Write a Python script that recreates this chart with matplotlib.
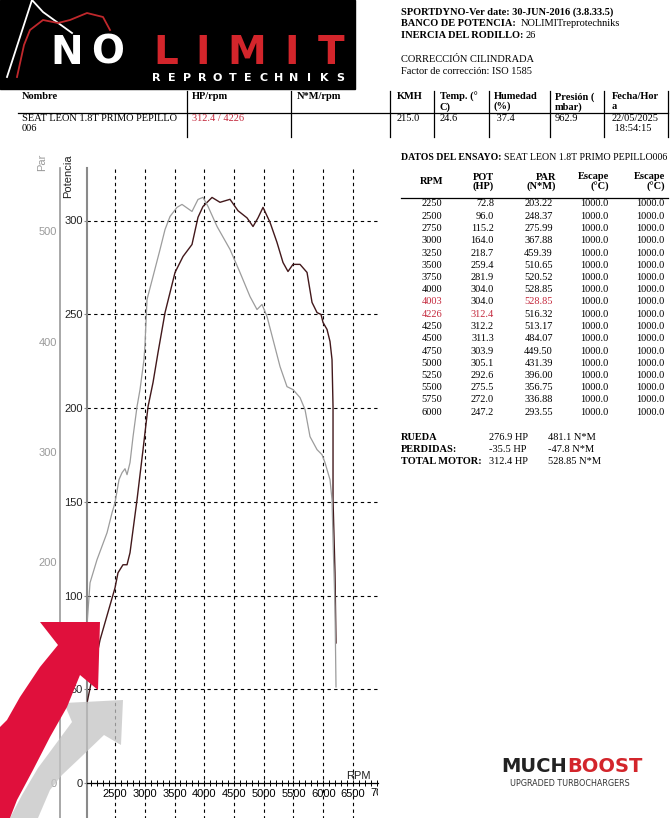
import matplotlib
matplotlib.use('Agg')
import matplotlib.pyplot as plt
import numpy as np
from matplotlib.patches import Rectangle, Polygon
from matplotlib.ticker import MultipleLocator
from matplotlib.transforms import Bbox, TransformedBbox

# curves
pot_rpm = [2029, 2248, 2500, 2550, 2634, 2702, 2752, 2870, 2971, 3055, 3139, 3223, 3341,
           3509, 3643, 3794, 3895, 3979, 4131, 4265, 4433, 4568, 4719, 4820, 4904, 4988,
           5106, 5223, 5324, 5408, 5492, 5610, 5728, 5812, 5896, 5963, 5997, 6064, 6114,
           6148, 6165, 6165, 6198, 6215]
pot_hp = [42.7, 76.3, 104.1, 112.1, 116.4, 116.4, 122.8, 151.1, 177.8, 200.7, 213.6, 229.6,
          250.9, 272.3, 280.8, 287.2, 301.7, 307.5, 312.3, 309.7, 311.3, 305.2, 301.4, 296.8,
          301.4, 307.0, 299.0, 288.3, 277.6, 272.8, 276.6, 276.6, 272.3, 256.3, 250.9, 249.9,
          245.6, 241.9, 235.5, 225.8, 200.7, 151.1, 112.1, 74.7]

par_rpm = [2029, 2080, 2197, 2366, 2450, 2500, 2567, 2618, 2668, 2702, 2752, 2803, 2870,
           2920, 2987, 3004, 3038, 3139, 3257, 3341, 3425, 3542, 3626, 3794, 3895, 3979,
           4063, 4215, 4433, 4601, 4769, 4887, 4971, 5055, 5156, 5274, 5391, 5492, 5610,
           5694, 5778, 5896, 5980, 6030, 6114, 6148, 6165, 6198, 6215]
par_nm = [143.4, 181.5, 202.4, 226.9, 245.0, 254.1, 275.0, 281.3, 284.9, 279.5, 290.4, 314.0,
          341.2, 356.6, 383.8, 397.5, 438.3, 459.2, 483.7, 501.8, 513.6, 521.8, 524.5, 518.1,
          529.0, 530.9, 522.7, 504.5, 483.7, 462.8, 441.0, 429.2, 433.8, 422.9, 402.0, 377.5,
          359.3, 356.6, 349.4, 338.5, 314.0, 302.2, 297.6, 290.4, 275.0, 256.8, 220.5, 159.7, 87.1]

hp_ticks = [0, 50, 100, 150, 200, 250, 300]
nm_ticks = [0, 100, 200, 300, 400, 500]
rpm_ticks = [2500, 3000, 3500, 4000, 4500, 5000, 5500, 6000, 6500]

# test table
tab_rpm = ['2250', '2500', '2750', '3000', '3250', '3500', '3750', '4000', '4003', '4226',
           '4250', '4500', '4750', '5000', '5250', '5500', '5750', '6000']
tab_pot = ['72.8', '96.0', '115.2', '164.0', '218.7', '259.4', '281.9', '304.0', '304.0',
           '312.4', '312.2', '311.3', '303.9', '305.1', '292.6', '275.5', '272.0', '247.2']
tab_par = ['203.22', '248.37', '275.99', '367.88', '459.39', '510.65', '520.52', '528.85',
           '528.85', '516.32', '513.17', '484.07', '449.50', '431.39', '396.00', '356.75',
           '336.88', '293.55']
tab_esc = ['1000.0'] * 18

head_cols = ['Nombre', 'HP/rpm', 'N*M/rpm', 'KMH', 'Temp. (°\nC)', 'Humedad\n(%)',
             'Presión (\nmbar)', 'Fecha/Hor\na']
head_vals = ['SEAT LEON 1.8T PRIMO PEPILLO\n006', '312.4 / 4226', '', '215.0', '24.6',
             ' 37.4', '962.9', '22/05/2025\n 18:54:15']

SERIF = 'Liberation Serif'
SANS = 'Liberation Sans'
RED = '#c4283c'

fig = plt.figure(figsize=(6.72, 8.18), dpi=100)

# ---------------- chart ----------------
ax = fig.add_axes([87/672, 35/818, 291/672, 615/818])
ax2 = ax.twinx()
ax.set_xlim(2029, 6921)
ax.set_ylim(0, 328)
ax2.set_ylim(0, 557.5)

ax.plot(pot_rpm, pot_hp, color='#42181b', lw=1.0, zorder=4)
ax2.plot(par_rpm, par_nm, color='#9c9c9c', lw=0.9, zorder=3)

ax.vlines(rpm_ticks, -19, 328, colors='k', linestyles=(0, (3, 3)), lw=0.8, clip_on=False)
ax.hlines(hp_ticks[1:], 2029, 6921, colors='k', linestyles=(0, (3, 3)), lw=0.8)

for s in ['top', 'right']:
    ax.spines[s].set_visible(False)
ax.spines['left'].set_color('#8a8a8a')
ax.spines['left'].set_linewidth(1.5)
ax.spines['left'].set_bounds(-19, 328)
ax.spines['bottom'].set_linewidth(0.9)

ax.set_xticks(rpm_ticks)
ax.xaxis.set_minor_locator(MultipleLocator(100))
ax.tick_params(axis='x', which='both', direction='inout', length=5, width=0.7, pad=2,
               labelsize=8)
for lbl in ax.get_xticklabels():
    lbl.set_fontfamily(SANS)
t7 = ax.text(7000, -0.0163, '7000', transform=ax.get_xaxis_transform(), ha='center',
             va='center', fontsize=8, family=SANS)
t7.set_clip_on(True)
t7.set_clip_box(TransformedBbox(Bbox([[0, 0], [378/672, 1]]), fig.transFigure))

ax.set_yticks(hp_ticks)
ax.tick_params(axis='y', length=2, color='#8a8a8a', pad=1, labelsize=8, labelcolor='#222222')
for lbl in ax.get_yticklabels():
    lbl.set_fontfamily(SANS)

for s in ['top', 'right', 'bottom']:
    ax2.spines[s].set_visible(False)
ax2.spines['left'].set_visible(True)
ax2.spines['left'].set_position(('axes', -27/291))
ax2.spines['left'].set_color('#9a9a9a')
ax2.spines['left'].set_linewidth(1.2)
ax2.spines['left'].set_bounds(-32, 557.5)
ax2.yaxis.set_ticks_position('left')
ax2.set_yticks(nm_ticks)
ax2.tick_params(axis='y', length=0, pad=2, labelsize=8, labelcolor='#9a9a9a')
for lbl in ax2.get_yticklabels():
    lbl.set_fontfamily(SANS)

# ---------------- overlay in pixel coords ----------------
ov = fig.add_axes([0, 0, 1, 1], zorder=10)
ov.set_xlim(0, 672)
ov.set_ylim(818, 0)
ov.axis('off')
ov.patch.set_visible(False)

ov.text(68, 176, 'Potencia', rotation=90, ha='center', va='center', fontsize=8, family=SANS,
        color='#222222')
ov.text(42, 162, 'Par', rotation=90, ha='center', va='center', fontsize=8, family=SANS,
        color='#9a9a9a')
ov.text(358, 776, 'RPM', ha='center', va='center', fontsize=8, family=SANS, color='#222222')

# logo block
ov.add_patch(Rectangle((0, 0), 355, 89, color='black'))
ov.plot([7, 32, 43, 72], [77, 0, 12, 33], color='white', lw=1.3)
ov.plot([17, 24, 30, 43, 58, 70, 87, 103, 110], [77, 45, 30, 20, 23, 20, 13, 17, 30],
        color='#c0282c', lw=1.3)
for ch, x, c in zip('NOLIMIT', [67, 108, 166, 203, 247, 292, 331],
                    ['white', 'white', '#d3252b', '#d3252b', '#d3252b', '#d3252b', '#d3252b']):
    ov.text(x, 64, ch, ha='center', va='baseline', fontsize=28, fontweight='bold',
            family='DejaVu Sans', color=c)
for ch, x in zip('REPROTECHNIKS', np.linspace(156, 340, 13)):
    ov.text(x, 81, ch, ha='center', va='baseline', fontsize=8, fontweight='bold',
            family='DejaVu Sans', color='white')

# header info
fs = 7.5
ov.text(401, 12, 'SPORTDYNO-Ver date: 30-JUN-2016 (3.8.33.5)', fontsize=fs, family=SERIF,
        fontweight='bold', va='center')
ov.text(401, 24, 'BANCO DE POTENCIA:', fontsize=fs, family=SERIF, fontweight='bold',
        va='center')
ov.text(521, 24, 'NOLIMITreprotechniks', fontsize=fs, family=SERIF, va='center')
ov.text(401, 36, 'INERCIA DEL RODILLO:', fontsize=fs, family=SERIF, fontweight='bold',
        va='center')
ov.text(526, 36, '26', fontsize=fs, family=SERIF, va='center')
ov.text(401, 60, 'CORRECCIÓN CILINDRADA', fontsize=fs, family=SERIF, va='center')
ov.text(401, 72, 'Factor de corrección: ISO 1585', fontsize=fs, family=SERIF, va='center')

# header table
col_x = [22, 192, 297, 397, 440, 494, 555, 612]
for x, h, v in zip(col_x, head_cols, head_vals):
    ov.text(x, 92, h, fontsize=fs, family=SERIF, fontweight='bold', va='top',
            linespacing=1.1)
    ov.text(x, 114, v, fontsize=fs, family=SERIF, va='top', linespacing=1.15,
            color=RED if v == head_vals[1] else 'black')
ov.plot([18, 668], [113, 113], color='black', lw=0.9)
for x in [187, 291, 390, 434, 489, 550, 604, 668]:
    ov.plot([x, x], [91, 137], color='black', lw=0.9)

# test data table
ov.text(401, 157, 'DATOS DEL ENSAYO:', fontsize=7, family=SERIF, fontweight='bold',
        va='center')
ov.text(504, 157, 'SEAT LEON 1.8T PRIMO PEPILLO006', fontsize=7.1, family=SERIF,
        va='center')
ov.text(432, 182, 'RPM', fontsize=fs, family=SERIF, fontweight='bold', va='center',
        ha='center')
for x, h in [(494, 'POT\n(HP)'), (556, 'PAR\n(N*M)'), (609, 'Escape\n(°C)'),
             (665, 'Escape\n(°C)')]:
    ov.text(x, 182, h, fontsize=fs, family=SERIF, fontweight='bold', va='center',
            ha='right', ma='right', linespacing=1.05)
ov.plot([401, 668], [198, 198], color='black', lw=0.9)
for i, (r, p, q, e) in enumerate(zip(tab_rpm, tab_pot, tab_par, tab_esc)):
    y = 204 + i * 12.25
    ov.text(432, y, r, fontsize=fs, family=SERIF, ha='center', va='center',
            color=RED if r in ('4003', '4226') else 'black')
    ov.text(494, y, p, fontsize=fs, family=SERIF, ha='right', va='center',
            color=RED if r == '4226' else 'black')
    ov.text(553, y, q, fontsize=fs, family=SERIF, ha='right', va='center',
            color=RED if r == '4003' else 'black')
    ov.text(608, y, e, fontsize=fs, family=SERIF, ha='right', va='center')
    ov.text(664, y, e, fontsize=fs, family=SERIF, ha='right', va='center')

for y, lab, a, b in [(437, 'RUEDA', '276.9 HP', '481.1 N*M'),
                     (450, 'PERDIDAS:', '-35.5 HP', '-47.8 N*M'),
                     (462, 'TOTAL MOTOR:', '312.4 HP', '528.85 N*M')]:
    ov.text(401, y, lab, fontsize=fs, family=SERIF, fontweight='bold', va='center')
    ov.text(489, y, a, fontsize=fs, family=SERIF, va='center')
    ov.text(548, y, b, fontsize=fs, family=SERIF, va='center')

# MUCHBOOST logo
ov.text(567, 772, 'MUCH', fontsize=14, fontweight='bold', family='DejaVu Sans',
        color='#222222', va='baseline', ha='right')
ov.text(567, 772, 'BOOST', fontsize=14, fontweight='bold', family='DejaVu Sans',
        color='#d3252b', va='baseline', ha='left')
ov.text(570, 783, 'UPGRADED TURBOCHARGERS', fontsize=5.8, family='DejaVu Sans',
        color='#333333', va='center', ha='center')

# red arrow with shadow
shadow = [(10, 818), (22, 795), (38, 768), (55, 745), (72, 722), (64, 703), (123, 700),
          (121, 745), (104, 735), (80, 758), (62, 775), (50, 790), (38, 818)]
ov.add_patch(Polygon(shadow, closed=True, color='#c4c4c4', alpha=0.75, lw=0))
arrow = [(0, 727), (7, 720), (20, 697), (40, 667), (58, 645), (40, 622), (100, 622),
         (98, 690), (80, 675), (67, 707), (50, 737), (33, 770), (17, 800), (10, 818), (0, 818)]
ov.add_patch(Polygon(arrow, closed=True, color='#e0103c', lw=0))

fig.savefig('out.png', dpi=100)
